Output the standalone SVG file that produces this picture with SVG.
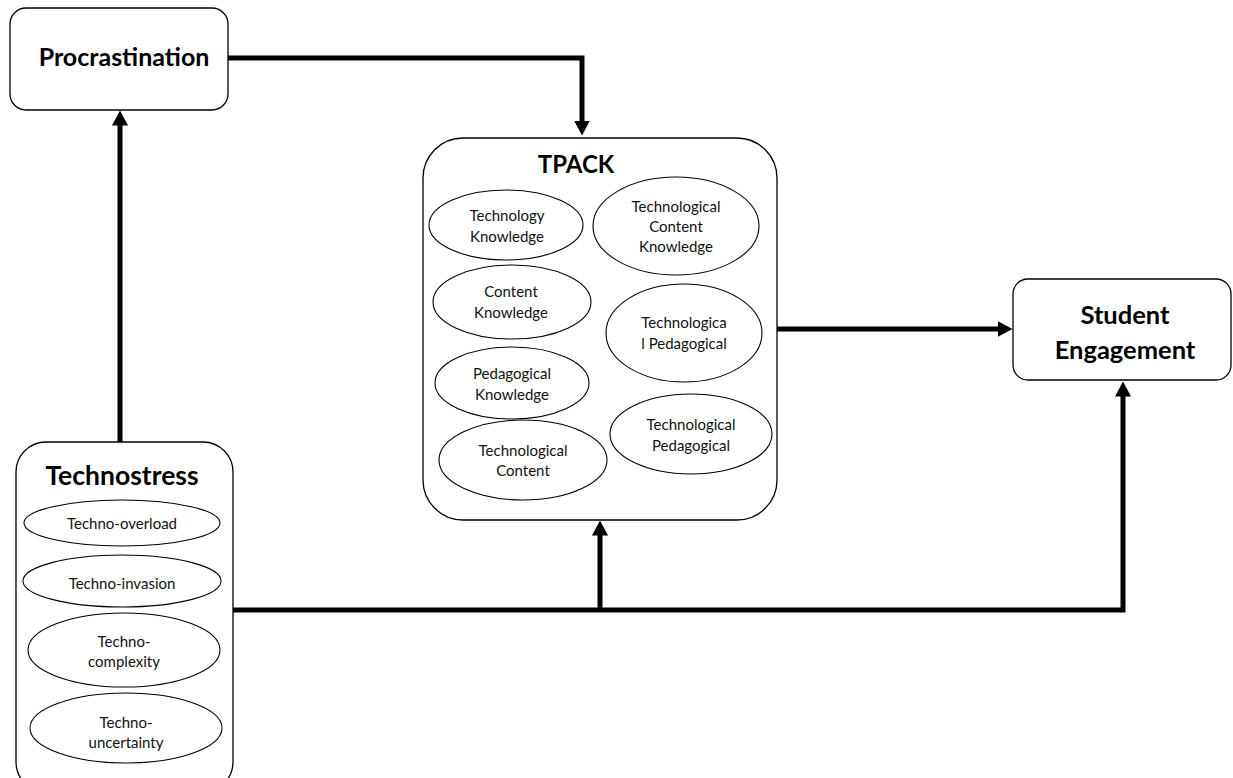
<svg xmlns="http://www.w3.org/2000/svg" width="1233" height="778" viewBox="0 0 1233 778">
<defs>
<style>
.box{fill:#fff;stroke:#000;stroke-width:1.3}
.ell{fill:#fff;stroke:#000;stroke-width:1.1}
.title{font-family:Lato,"Liberation Sans",sans-serif;font-weight:bold;fill:#000;text-anchor:middle}
.lbl{font-family:Lato,"Liberation Sans",sans-serif;font-size:15px;fill:#111;text-anchor:middle}
.conn{fill:none;stroke:#000;stroke-width:5;stroke-linejoin:miter}
</style>
<marker id="ah" markerUnits="userSpaceOnUse" markerWidth="16" markerHeight="16" refX="0.5" refY="8" orient="auto" viewBox="0 0 16 16">
<path d="M0,0 L15,8 L0,16 z" fill="#000"/>
</marker>
</defs>
<rect width="1233" height="778" fill="#fff"/>
<g id="connectors">
<path class="conn" d="M120,442 V125" marker-end="url(#ah)"/>
<path class="conn" d="M228,58 H582 V121" marker-end="url(#ah)"/>
<path class="conn" d="M777,329 H998" marker-end="url(#ah)"/>
<path class="conn" d="M233,610 H1123 V396" marker-end="url(#ah)"/>
<path class="conn" d="M600,610 V535" marker-end="url(#ah)"/>
</g>
<g id="procrastination">
<rect class="box" x="10" y="8" width="218" height="102" rx="16"/>
<text class="title" x="124" y="66" font-size="25">Procrastination</text>
</g>
<g id="tpack">
<rect class="box" x="423" y="138" width="354" height="382" rx="40"/>
<text class="title" x="576" y="173" font-size="24">TPACK</text>
<g id="tk"><ellipse class="ell" cx="506" cy="225" rx="77" ry="35"/>
<text class="lbl" x="507" y="221">Technology</text><text class="lbl" x="507" y="242">Knowledge</text></g>
<g id="tck"><ellipse class="ell" cx="676" cy="226" rx="83" ry="49"/>
<text class="lbl" x="676" y="212">Technological</text><text class="lbl" x="676" y="232">Content</text><text class="lbl" x="676" y="252">Knowledge</text></g>
<g id="ck"><ellipse class="ell" cx="512" cy="302" rx="79" ry="37"/>
<text class="lbl" x="511" y="297">Content</text><text class="lbl" x="511" y="318">Knowledge</text></g>
<g id="tp1"><ellipse class="ell" cx="684" cy="333" rx="78" ry="49"/>
<text class="lbl" x="684" y="328">Technologica</text><text class="lbl" x="684" y="349">l Pedagogical</text></g>
<g id="pk"><ellipse class="ell" cx="512" cy="383" rx="77" ry="36"/>
<text class="lbl" x="512" y="379">Pedagogical</text><text class="lbl" x="512" y="400">Knowledge</text></g>
<g id="tc"><ellipse class="ell" cx="523" cy="460" rx="84" ry="40"/>
<text class="lbl" x="523" y="456">Technological</text><text class="lbl" x="523" y="476">Content</text></g>
<g id="tp2"><ellipse class="ell" cx="691" cy="434" rx="81" ry="40"/>
<text class="lbl" x="691" y="430">Technological</text><text class="lbl" x="691" y="451">Pedagogical</text></g>
</g>
<g id="technostress">
<rect class="box" x="16" y="442" width="217" height="350" rx="30"/>
<text class="title" x="122" y="485" font-size="26.5">Technostress</text>
<g id="overload"><ellipse class="ell" cx="122" cy="523" rx="98" ry="23"/>
<text class="lbl" x="122" y="529">Techno-overload</text></g>
<g id="invasion"><ellipse class="ell" cx="122" cy="581" rx="99" ry="26"/>
<text class="lbl" x="122" y="589">Techno-invasion</text></g>
<g id="complexity"><ellipse class="ell" cx="124" cy="650" rx="96" ry="37"/>
<text class="lbl" x="124" y="647">Techno-</text><text class="lbl" x="124" y="667">complexity</text></g>
<g id="uncertainty"><ellipse class="ell" cx="126" cy="728" rx="96" ry="35"/>
<text class="lbl" x="126" y="728">Techno-</text><text class="lbl" x="126" y="748">uncertainty</text></g>
</g>
<g id="engagement">
<rect class="box" x="1013" y="279" width="218" height="101" rx="15"/>
<text class="title" x="1125" y="324" font-size="25.5">Student</text>
<text class="title" x="1125" y="359" font-size="25.5">Engagement</text>
</g>
</svg>
